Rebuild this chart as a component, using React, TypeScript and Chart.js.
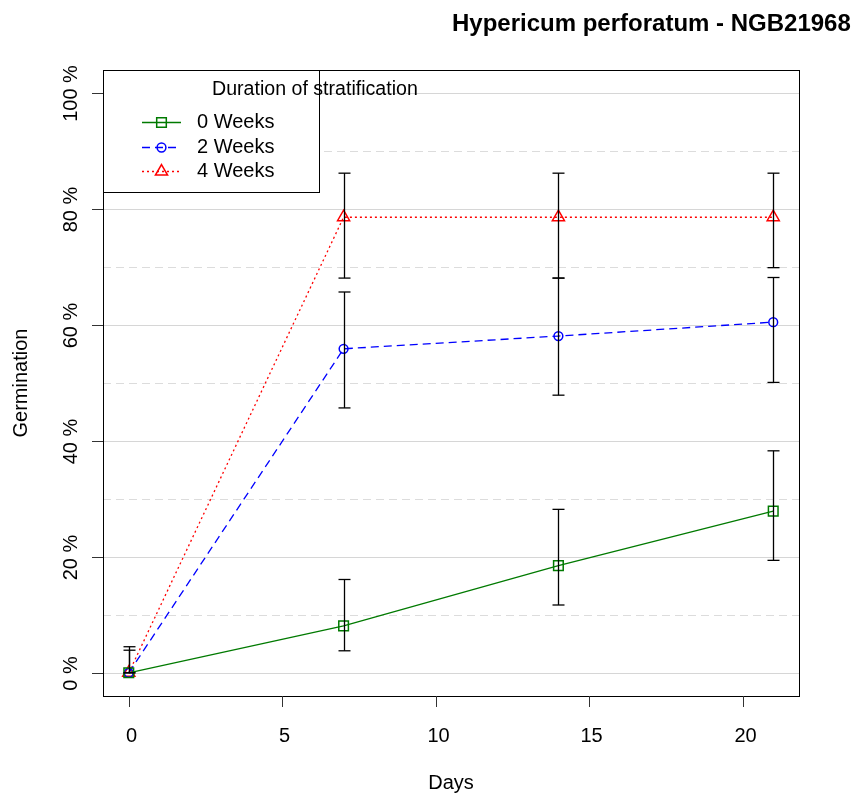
import { useEffect, useRef } from "react";
import { Chart, registerables } from "chart.js";

Chart.register(...registerables);

// Germination (%) after a number of days, per stratification duration
const days = [0, 7, 14, 21];
const seriesNames = ["0 Weeks", "2 Weeks", "4 Weeks"];

const germ0 = [0, 8.1, 18.5, 27.9];
const low0 = [0, 3.8, 11.7, 19.4];
const high0 = [0, 16.1, 28.2, 38.3];

const germ2 = [0, 55.9, 58.1, 60.5];
const low2 = [0, 45.7, 47.9, 50.1];
const high2 = [4.5, 65.7, 68.1, 68.2];

const germ4 = [0, 78.6, 78.6, 78.6];
const low4 = [0, 68.1, 68.1, 69.9];
const high4 = [3.9, 86.2, 86.2, 86.2];

const xTicks = [0, 5, 10, 15, 20];
const yTicks = [0, 20, 40, 60, 80, 100];
const yMinorTicks = [10, 30, 50, 70, 90];

const titleText = "Hypericum perforatum - NGB21968";
const legendTitle = "Duration of stratification";
const xLabel = "Days";
const yLabel = "Germination";

const FONT = '"Liberation Sans", Arial, Helvetica, sans-serif';

const colors = ["#007A00", "#0000FF", "#FF0000"];
const dashes: number[][] = [[], [8, 5], [2, 3]];
const shapes = ["rect", "circle", "triangle"];
const radii = [6.8, 4.4, 7];

const values = [germ0, germ2, germ4];
const lows = [low0, low2, low4];
const highs = [high0, high2, high4];

function marker(ctx: CanvasRenderingContext2D, shape: string, cx: number, cy: number, r: number) {
  ctx.beginPath();
  if (shape === "rect") {
    const s = Math.SQRT1_2 * r;
    ctx.rect(cx - s, cy - s, 2 * s, 2 * s);
  } else if (shape === "circle") {
    ctx.arc(cx, cy, r, 0, Math.PI * 2);
  } else {
    let a = 0;
    ctx.moveTo(cx + Math.sin(a) * r, cy - Math.cos(a) * r);
    a += (2 * Math.PI) / 3;
    ctx.lineTo(cx + Math.sin(a) * r, cy - Math.cos(a) * r);
    a += (2 * Math.PI) / 3;
    ctx.lineTo(cx + Math.sin(a) * r, cy - Math.cos(a) * r);
    ctx.closePath();
  }
  ctx.stroke();
}

function hline(ctx: CanvasRenderingContext2D, x1: number, x2: number, y: number) {
  ctx.beginPath();
  ctx.moveTo(x1, y);
  ctx.lineTo(x2, y);
  ctx.stroke();
}

function vline(ctx: CanvasRenderingContext2D, x: number, y1: number, y2: number) {
  ctx.beginPath();
  ctx.moveTo(x, y1);
  ctx.lineTo(x, y2);
  ctx.stroke();
}

const decorations = {
  id: "decorations",
  beforeDatasetsDraw(chart: any) {
    const { ctx, chartArea: a, scales } = chart;
    const y = scales.y;
    ctx.save();
    ctx.lineWidth = 1;
    ctx.strokeStyle = "#D6D6D6";
    for (const v of yTicks) {
      const py = Math.round(y.getPixelForValue(v)) + 0.5;
      hline(ctx, a.left, a.right, py);
    }
    ctx.setLineDash([8, 5]);
    ctx.strokeStyle = "#DCDCDC";
    for (const v of yMinorTicks) {
      const py = Math.round(y.getPixelForValue(v)) + 0.5;
      hline(ctx, a.left, a.right, py);
    }
    ctx.restore();
  },
  afterDatasetsDraw(chart: any) {
    const { ctx, scales } = chart;
    const { x, y } = scales;
    ctx.save();
    ctx.strokeStyle = "#000";
    ctx.lineWidth = 1.3;
    for (let s = 0; s < values.length; s++) {
      for (let i = 0; i < days.length; i++) {
        if (lows[s][i] === highs[s][i]) continue;
        const px = Math.round(x.getPixelForValue(days[i])) + 0.5;
        const pLow = y.getPixelForValue(lows[s][i]);
        const pHigh = y.getPixelForValue(highs[s][i]);
        vline(ctx, px, pLow, pHigh);
        hline(ctx, px - 6, px + 6, pLow);
        hline(ctx, px - 6, px + 6, pHigh);
      }
    }
    ctx.restore();
  },
  afterDraw(chart: any) {
    const { ctx, chartArea: a, scales } = chart;
    const { x, y } = scales;
    ctx.save();

    // plot frame
    ctx.strokeStyle = "#000";
    ctx.lineWidth = 1;
    ctx.strokeRect(a.left + 0.5, a.top + 0.5, a.right - a.left, a.bottom - a.top);

    // x axis ticks and labels
    ctx.strokeStyle = "#333";
    ctx.fillStyle = "#000";
    ctx.font = `20px ${FONT}`;
    ctx.textAlign = "center";
    ctx.textBaseline = "middle";
    for (const v of xTicks) {
      const px = Math.round(x.getPixelForValue(v)) + 0.5;
      vline(ctx, px, a.bottom, a.bottom + 11);
      ctx.fillText(String(v), px + 2, 736);
    }

    // y axis ticks and rotated labels
    for (const v of yTicks) {
      const py = Math.round(y.getPixelForValue(v)) + 0.5;
      hline(ctx, a.left - 11, a.left, py);
      ctx.save();
      ctx.translate(71, py);
      ctx.rotate(-Math.PI / 2);
      ctx.fillText(`${v} %`, 0, 0);
      ctx.restore();
    }

    // axis titles
    ctx.fillText(xLabel, (a.left + a.right) / 2, 783);
    ctx.save();
    ctx.translate(21, (a.top + a.bottom) / 2);
    ctx.rotate(-Math.PI / 2);
    ctx.fillText(yLabel, 0, 0);
    ctx.restore();

    // legend
    const lx = a.left + 0.5;
    const ly = a.top + 0.5;
    const lw = 216;
    const lh = 122;
    ctx.fillStyle = "#fff";
    ctx.fillRect(lx, ly, lw, lh);
    ctx.strokeStyle = "#000";
    ctx.strokeRect(lx, ly, lw, lh);
    ctx.fillStyle = "#000";
    ctx.textAlign = "left";
    ctx.font = `19.6px ${FONT}`;
    ctx.fillText(legendTitle, 212, 90);
    ctx.font = `20px ${FONT}`;
    const rowY = [122, 147, 171];
    for (let s = 0; s < seriesNames.length; s++) {
      const yy = rowY[s] + 0.5;
      ctx.strokeStyle = colors[s];
      ctx.lineWidth = 1.3;
      ctx.setLineDash(dashes[s]);
      hline(ctx, 142, 181, yy);
      ctx.setLineDash([]);
      ctx.lineWidth = 1.5;
      marker(ctx, shapes[s], 161.5, yy, radii[s]);
      ctx.fillStyle = "#000";
      ctx.fillText(seriesNames[s], 197, rowY[s]);
    }

    // title
    ctx.font = `bold 24px ${FONT}`;
    ctx.textAlign = "left";
    ctx.fillText(titleText, 452, 24);
    ctx.restore();
  },
};

export default function App() {
  const canvasRef = useRef<HTMLCanvasElement | null>(null);

  useEffect(() => {
    const canvas = canvasRef.current;
    if (!canvas) return;
    const chart = new Chart(canvas, {
      type: "line",
      data: {
        datasets: values.map((vals, s) => ({
          label: seriesNames[s],
          data: days.map((d, i) => ({ x: d, y: vals[i] })),
          borderColor: colors[s],
          borderWidth: 1.3,
          borderDash: dashes[s],
          backgroundColor: "rgba(0,0,0,0)",
          pointStyle: shapes[s] as any,
          pointRadius: radii[s],
          pointBorderWidth: 1.5,
          pointBorderColor: colors[s],
          pointBackgroundColor: "rgba(0,0,0,0)",
          fill: false,
          tension: 0,
        })),
      },
      options: {
        animation: false,
        responsive: false,
        devicePixelRatio: 1,
        layout: { padding: { left: 103, top: 70, right: 57, bottom: 97 } },
        plugins: { legend: { display: false }, tooltip: { enabled: false }, title: { display: false } },
        scales: {
          x: { type: "linear", min: -0.84, max: 21.84, display: false },
          y: { type: "linear", min: -4, max: 104, display: false },
        },
      },
      plugins: [decorations],
    });
    return () => chart.destroy();
  }, []);

  return (
    <div style={{ position: "absolute", left: 0, top: 0, width: 856, height: 793, background: "#fff" }}>
      <canvas ref={canvasRef} width={856} height={793} style={{ display: "block" }} />
    </div>
  );
}
